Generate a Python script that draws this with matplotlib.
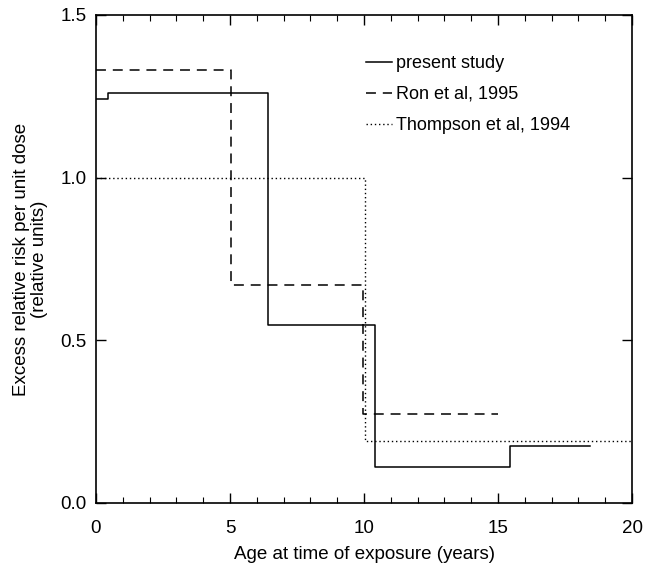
import matplotlib
matplotlib.use("Agg")
import matplotlib.pyplot as plt
from matplotlib.ticker import MultipleLocator, FormatStrFormatter

plt.rcParams['font.family'] = ['Liberation Sans', 'DejaVu Sans']

# step edges (age, years) and values (relative risk)
present_edges = [0, 0.45, 6.42, 10.41, 15.45, 18.43]
present_vals = [1.242, 1.261, 0.547, 0.112, 0.174]

ron_edges = [0, 5.05, 9.97, 15.0]
ron_vals = [1.331, 0.670, 0.274]

thompson_edges = [0, 10.04, 20.0]
thompson_vals = [1.0, 0.19]

labels = ["present study", "Ron et al, 1995", "Thompson et al, 1994"]

fig = plt.figure(figsize=(6.45, 5.63), dpi=100)
ax = fig.add_axes([0.1488, 0.1066, 0.98 - 0.1488, 0.9734 - 0.1066])

def step(edges, vals):
    xs, ys = [], []
    for i, v in enumerate(vals):
        xs += [edges[i], edges[i + 1]]
        ys += [v, v]
    return xs, ys

x, y = step(present_edges, present_vals)
ax.plot(x, y, color='black', lw=1.1, ls='-', label=labels[0])
x, y = step(ron_edges, ron_vals)
ax.plot(x, y, color='black', lw=1.1, ls=(0, (6.5, 4.5)), label=labels[1])
x, y = step(thompson_edges, thompson_vals)
ax.plot(x, y, color='black', lw=1.0, ls=(0, (1, 2)), label=labels[2])

ax.set_xlim(0, 20)
ax.set_ylim(0, 1.5)
ax.xaxis.set_major_locator(MultipleLocator(5))
ax.xaxis.set_minor_locator(MultipleLocator(1))
ax.yaxis.set_major_locator(MultipleLocator(0.5))
ax.tick_params(which='both', direction='in', top=True, right=True, labelsize=13.5, colors='black')
ax.tick_params(which='major', length=7, width=1)
ax.tick_params(which='minor', length=4, width=0.8)
ax.tick_params(axis='x', which='major', pad=12)
ax.tick_params(axis='y', which='major', pad=7)
ax.xaxis.set_major_formatter(FormatStrFormatter('%d'))
ax.yaxis.set_major_formatter(FormatStrFormatter('%.1f'))
for s in ax.spines.values():
    s.set_linewidth(1.2)

ax.set_xlabel("Age at time of exposure (years)", fontsize=13.5, labelpad=7)
ax.set_ylabel("Excess relative risk per unit dose\n(relative units)", fontsize=13.5,
              labelpad=9, linespacing=1.05)

ax.legend(loc='upper left', bbox_to_anchor=(0.49, 0.933), frameon=False, fontsize=13,
          handlelength=1.45, handletextpad=0.2, labelspacing=0.78, borderaxespad=0)

fig.savefig("out.png", dpi=100)
